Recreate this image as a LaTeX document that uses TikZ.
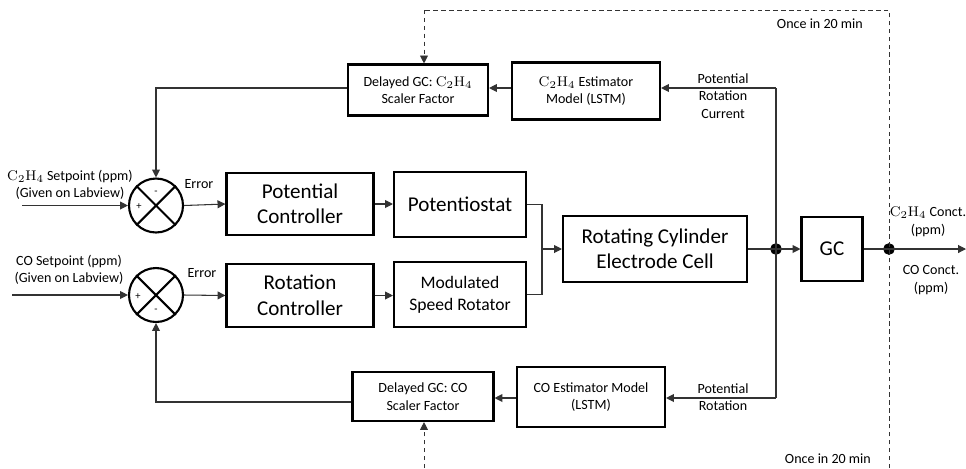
\documentclass[tikz,border=0pt]{standalone}
\usepackage[no-math]{fontspec}
\setmainfont{Carlito}
\usetikzlibrary{arrows.meta,positioning}

\tikzset{
  blk/.style={draw, line width=1.2pt, align=center, inner sep=1pt},
  bigtxt/.style={font=\fontsize{12}{14.5}\selectfont},
  midtxt/.style={font=\fontsize{10}{12.5}\selectfont},
  smalltxt/.style={font=\fontsize{8}{10}\selectfont, align=center},
  conn/.style={line width=0.6pt, draw=black!80},
  arr/.style={conn, -{Triangle[length=4.5pt,width=4.5pt]}},
  gclink/.style={line width=0.5pt, draw=black!80, dash pattern=on 2.5pt off 2pt},
  sumjn/.style={circle, draw, line width=1.2pt, minimum size=1.08cm, inner sep=0pt},
}

\begin{document}
\begin{tikzpicture}[x=0.02cm, y=-0.02cm]

    \useasboundingbox (0,0) rectangle (966,468);

    \node[sumjn] (s1) at (156,205.5) {};
    \node[sumjn] (s2) at (156,295) {};
    \draw[line width=1.2pt] (s1.north west) -- (s1.south east) (s1.north east) -- (s1.south west);
    \draw[line width=1.2pt] (s2.north west) -- (s2.south east) (s2.north east) -- (s2.south west);
    \node[font=\fontsize{6}{7}\selectfont] (s1p) at (139,207) {+};
    \node[font=\fontsize{6}{7}\selectfont] (s1m) at (156,193) {-};
    \node[font=\fontsize{6}{7}\selectfont] (s2p) at (138,297) {+};
    \node[font=\fontsize{6}{7}\selectfont] (s2m) at (156,311) {-};

    \node[blk, bigtxt, minimum width=2.94cm, minimum height=1.24cm] (pc) at (300,204) {Potential\\Controller};
    \node[blk, bigtxt, minimum width=2.94cm, minimum height=1.26cm] (rc) at (300,295.5) {Rotation\\Controller};
    \node[blk, bigtxt, minimum width=2.64cm, minimum height=1.3cm] (ps) at (460,204.5) {Potentiostat};
    \node[blk, midtxt, minimum width=2.64cm, minimum height=1.3cm] (msr) at (460,294.5) {Modulated\\Speed Rotator};
    \node[blk, bigtxt, minimum width=3.68cm, minimum height=1.32cm] (rce) at (655,249) {Rotating Cylinder\\Electrode Cell};
    \node[blk, bigtxt, minimum width=1.22cm, minimum height=1.28cm] (gc) at (832,249) {GC};

    \node[blk, smalltxt, minimum width=2.8cm, minimum height=1.02cm] (dg1) at (418,90) {Delayed GC: $\mathrm{C_2H_4}$\\Scaler Factor};
    \node[blk, smalltxt, minimum width=2.96cm, minimum height=1.14cm] (est1) at (586,91) {$\mathrm{C_2H_4}$ Estimator\\Model (LSTM)};
    \node[blk, smalltxt, minimum width=2.96cm, minimum height=1.2cm] (est2) at (591,397) {CO Estimator Model\\(LSTM)};
    \node[blk, smalltxt, minimum width=2.82cm, minimum height=0.98cm] (dg2) at (423,396.5) {Delayed GC: CO\\Scaler Factor};

    \coordinate (in1) at (22,205.5);
    \coordinate (in2) at (12,295);
    \coordinate (mix) at (542,249);
    \coordinate (tap1) at (776,88);
    \coordinate (tap2) at (776,398);
    \coordinate (out) at (966,249);
    \coordinate (gcl) at (889,10);
    \coordinate (gctop) at (424,10);
    \coordinate (gcbot) at (424,468);
    \coordinate (gcend) at (889,468);

    \filldraw[black] (776,249) coordinate(d1) circle (3.1pt);
    \filldraw[black] (889,249) coordinate(d2) circle (3.1pt);

    \draw[arr] (in1) -- (s1.west);
    \draw[arr] (in2) -- (s2.west);
    \draw[arr] (s1.east) -- (pc.west);
    \draw[arr] (s2.east) -- (rc.west);
    \draw[arr] (pc.east) -- (ps.west |- pc.east);
    \draw[arr] (rc.east) -- (msr.west |- rc.east);
    \draw[conn] (ps.east) -| (mix);
    \draw[conn] (msr.east) -| (mix);
    \draw[arr] (mix) -- (rce.west);
    \draw[conn] (rce.east) -- (d1);
    \draw[arr] (d1) -- (gc.west);
    \draw[conn] (gc.east) -- (d2);
    \draw[arr] (d2) -- (out);

    \draw[conn] (tap1) -- (tap2);
    \draw[arr] (tap1) -- (est1.east |- tap1);
    \draw[arr] (est1.west |- tap1) -- (dg1.east |- tap1);
    \draw[arr] (dg1.west |- tap1) -| (s1.north);
    \draw[arr] (tap2) -- (est2.east |- tap2);
    \draw[arr] (est2.west |- tap2) -- (dg2.east |- tap2);
    \draw[arr] (dg2.west |- 0,402) -| (s2.south);

    \draw[gclink] (gcend) -- (gcl) -- (gctop);
    \draw[gclink, -{Triangle[length=4.5pt,width=4.5pt]}] (gctop) -- (gctop |- dg1.north);
    \draw[gclink, -{Triangle[length=4.5pt,width=4.5pt]}] (gcbot) -- (gcbot |- dg2.south);

    \node[smalltxt] (sp1) at (70,185) {$\mathrm{C_2H_4}$ Setpoint (ppm)\\(Given on Labview)};
    \node[smalltxt] (sp2) at (69,270) {CO Setpoint (ppm)\\(Given on Labview)};
    \node[smalltxt] (err1) at (199,184) {Error};
    \node[smalltxt] (err2) at (202,273) {Error};
    \node[smalltxt] (sig1) at (723,96) {Potential\\Rotation\\Current};
    \node[smalltxt] (sig2) at (723,397) {Potential\\Rotation};
    \node[smalltxt, anchor=east] (once1) at (869,24) {Once in 20 min};
    \node[smalltxt, anchor=east] (once2) at (877,459) {Once in 20 min};
    \node[smalltxt] (oc1) at (928,222) {$\mathrm{C_2H_4}$ Conct.\\(ppm)};
    \node[smalltxt] (oc2) at (931,280) {CO Conct.\\(ppm)};

\end{tikzpicture}
\end{document}
